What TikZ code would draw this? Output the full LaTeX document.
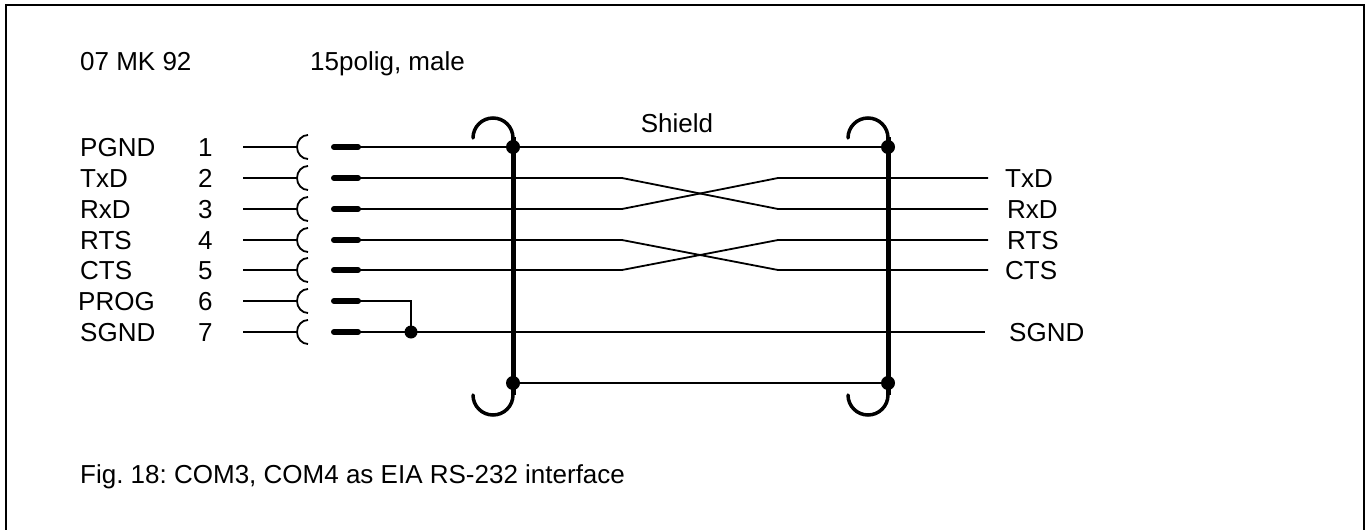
\documentclass[tikz,border=0pt]{standalone}
\usepackage{fontspec}
\setmainfont{Liberation Sans}
\frenchspacing
\begin{document}
\begin{tikzpicture}[x=1pt,y=-1pt,
  wire/.style={line width=1.8pt},
  pinbar/.style={line width=6pt,line cap=round},
  shieldbar/.style={line width=5pt},
  hook/.style={line width=3.5pt,line cap=round},
  jdot/.style={circle,fill=black,inner sep=0pt,minimum size=14pt},
  lbl/.style={anchor=base west,inner sep=0pt,font=\fontsize{26}{30}\selectfont}]
\useasboundingbox (0,0) rectangle (1366,530);
\draw[line width=1.5pt] (6,535) -- (6,5) -- (1364,5) -- (1364,535);

\node[lbl] (hdr) at (80,70) {07 MK 92};
\node[lbl] (pol) at (310,70) {15polig, male};
\node[lbl] (cap) at (80,483) {Fig. 18: COM3, COM4 as EIA RS-232 interface};
\node[lbl,anchor=base] (shl) at (677,132) {Shield};

% rows
\foreach \i/\y/\lab/\lx in {1/147/PGND/80,2/178/TxD/80,3/209/RxD/80,4/240/RTS/80,5/270/CTS/80,6/301/PROG/78,7/332/SGND/80}{
  \node[lbl] (n\i) at (\lx,\y+9.5) {\lab};
  \node[lbl] (k\i) at (198,\y+9.5) {\i};
  \coordinate (s\i) at (243,\y);
  \coordinate (a\i) at (297,\y);
  \coordinate (p\i) at (334,\y);
  \coordinate (q\i) at (358,\y);
  \draw[wire] (s\i) -- (a\i);
  \draw[wire] (a\i) arc[start angle=180,end angle=90,x radius=11,y radius=12];
  \draw[wire] (a\i) arc[start angle=180,end angle=270,x radius=11,y radius=12];
  \draw[pinbar] (p\i) -- (q\i);
}

% right labels
\node[lbl] (rt2) at (1005,187.5) {TxD};
\node[lbl] (rt3) at (1007,218.5) {RxD};
\node[lbl] (rt4) at (1007,249.5) {RTS};
\node[lbl] (rt5) at (1005,279.5) {CTS};
\node[lbl] (rt7) at (1009,341.5) {SGND};

% crossing points
\coordinate (b2) at (622,178);
\coordinate (b3) at (622,209);
\coordinate (c2) at (778,178);
\coordinate (c3) at (778,209);
\coordinate (b4) at (622,240);
\coordinate (b5) at (622,270);
\coordinate (c4) at (778,240);
\coordinate (c5) at (778,270);
\coordinate (e2) at (988,178);
\coordinate (e3) at (988,209);
\coordinate (e4) at (988,240);
\coordinate (e5) at (988,270);
\coordinate (e7) at (985,332);
\coordinate (j6) at (411,301);
\coordinate (j7) at (411,332);

% shield points
\coordinate (LT) at (513,147);
\coordinate (RT) at (888,147);
\coordinate (LB) at (513,383);
\coordinate (RB) at (888,383);

\draw[wire] (q1) -- (LT) -- (RT);
\draw[wire] (q2) -- (b2) -- (c3) -- (e3);
\draw[wire] (q3) -- (b3) -- (c2) -- (e2);
\draw[wire] (q4) -- (b4) -- (c5) -- (e5);
\draw[wire] (q5) -- (b5) -- (c4) -- (e4);
\draw[wire] (q6) -- (j6) -- (j7);
\draw[wire] (q7) -- (j7) -- (e7);
\draw[wire] (LB) -- (RB);

% shield bars with hooks
\draw[hook] (473,138) arc[start angle=180,end angle=360,radius=20];
\draw[hook] (513,395) arc[start angle=0,end angle=180,radius=20];
\draw[shieldbar] (513,137) -- (513,395);
\draw[hook] (848,138) arc[start angle=180,end angle=360,radius=20];
\draw[hook] (888,395) arc[start angle=0,end angle=180,radius=20];
\draw[shieldbar] (888,137) -- (888,395);

\node[jdot] (dLT) at (LT) {};
\node[jdot] (dRT) at (RT) {};
\node[jdot] (dLB) at (LB) {};
\node[jdot] (dRB) at (RB) {};
\node[jdot,minimum size=13pt] (dj7) at (j7) {};
\end{tikzpicture}
\end{document}
